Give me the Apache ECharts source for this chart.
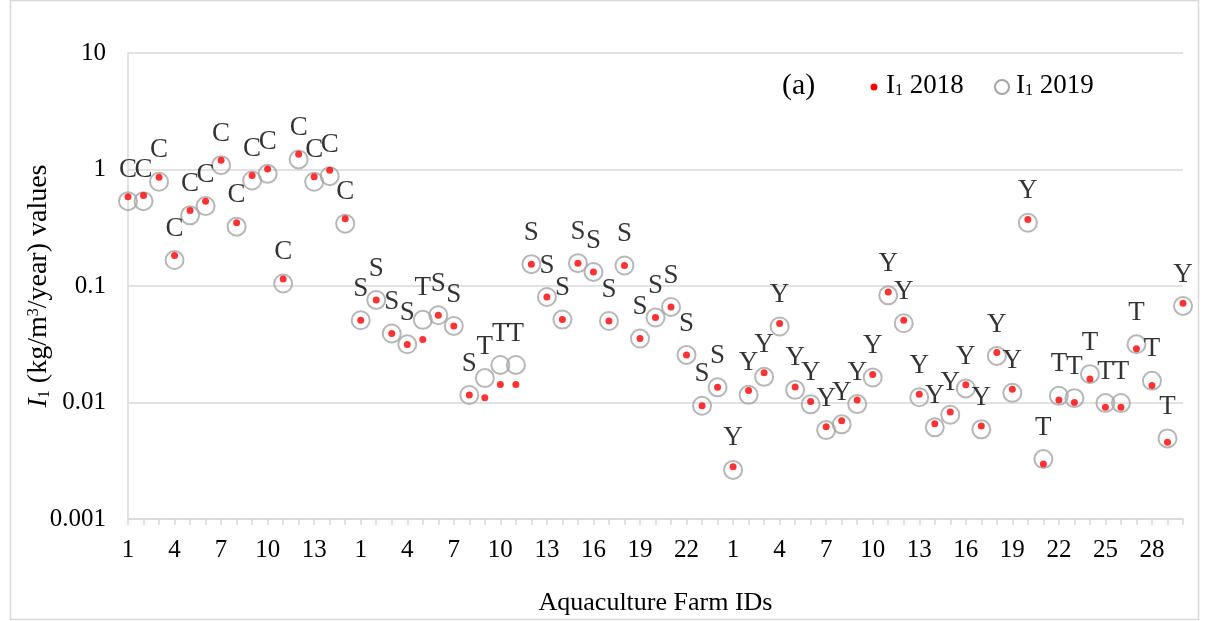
<!DOCTYPE html>
<html>
<head>
<meta charset="utf-8">
<script src="https://cdn.jsdelivr.net/npm/echarts@6/dist/echarts.min.js"></script>
<style>
  html, body { margin: 0; padding: 0; background: #ffffff; }
  #chart { width: 1208px; height: 621px; }
</style>
</head>
<body>
<div id="chart"></div>
<script>
// Farm IDs, restarting for each of the three farm groups
const farmIdsGroup1 = [1, 2, 3, 4, 5, 6, 7, 8, 9, 10, 11, 12, 13, 14, 15];
const farmIdsGroup2 = [1, 2, 3, 4, 5, 6, 7, 8, 9, 10, 11, 12, 13, 14, 15, 16, 17, 18, 19, 20, 21, 22, 23, 24];
const farmIdsGroup3 = [1, 2, 3, 4, 5, 6, 7, 8, 9, 10, 11, 12, 13, 14, 15, 16, 17, 18, 19, 20, 21, 22, 23, 24, 25, 26, 27, 28, 29, 30];

// Species code of each farm
const speciesGroup1 = ['C', 'C', 'C', 'C', 'C', 'C', 'C', 'C', 'C', 'C', 'C', 'C', 'C', 'C', 'C'];
const speciesGroup2 = ['S', 'S', 'S', 'S', 'T', 'S', 'S', 'S', 'T', 'T', 'T', 'S', 'S', 'S', 'S', 'S', 'S', 'S', 'S', 'S', 'S', 'S', 'S', 'S'];
const speciesGroup3 = ['Y', 'Y', 'Y', 'Y', 'Y', 'Y', 'Y', 'Y', 'Y', 'Y', 'Y', 'Y', 'Y', 'Y', 'Y', 'Y', 'Y', 'Y', 'Y', 'Y', 'T', 'T', 'T', 'T', 'T', 'T', 'T', 'T', 'T', 'Y'];

// I1 values (kg/m3/year), 2018
const i1Y2018Group1 = [0.583, 0.599, 0.859, 0.183, 0.445, 0.535, 1.20, 0.349, 0.888, 1.01, 0.115, 1.35, 0.866, 0.986, 0.378];
const i1Y2018Group2 = [0.0508, 0.0759, 0.0391, 0.0314, 0.0347, 0.0561, 0.0454, 0.0116, 0.0110, 0.0143, 0.0143, 0.154, 0.0805, 0.0515, 0.157, 0.132, 0.0501, 0.150, 0.0354, 0.0536, 0.0661, 0.0256, 0.00937, 0.0135];
const i1Y2018Group3 = [0.00281, 0.0127, 0.0180, 0.0476, 0.0136, 0.0102, 0.0062, 0.00697, 0.0105, 0.0174, 0.0889, 0.0508, 0.0118, 0.00657, 0.0083, 0.0142, 0.0063, 0.0269, 0.0130, 0.373, 0.00297, 0.0105, 0.0100, 0.0159, 0.0091, 0.0091, 0.0289, 0.01397, 0.00455, 0.0712];

// I1 values (kg/m3/year), 2019
const i1Y2019Group1 = [0.535, 0.535, 0.785, 0.167, 0.404, 0.485, 1.09, 0.323, 0.805, 0.918, 0.105, 1.22, 0.785, 0.877, 0.343];
const i1Y2019Group2 = [0.0508, 0.0759, 0.0391, 0.0316, 0.0512, 0.0561, 0.0454, 0.0116, 0.0162, 0.0210, 0.0210, 0.154, 0.0805, 0.0515, 0.157, 0.132, 0.0501, 0.150, 0.0354, 0.0536, 0.0661, 0.0256, 0.00937, 0.0135];
const i1Y2019Group3 = [0.00264, 0.01164, 0.0166, 0.0449, 0.01285, 0.00964, 0.0058, 0.00649, 0.00969, 0.0164, 0.0832, 0.0479, 0.0111, 0.00612, 0.00785, 0.0132, 0.00588, 0.0251, 0.0121, 0.349, 0.00327, 0.0114, 0.0109, 0.0175, 0.00989, 0.00989, 0.0316, 0.01535, 0.00492, 0.0674];

// Y axis tick labels (log scale)
const yTickLabels = { '10': '10', '1': '1', '0.1': '0.1', '0.01': '0.01', '0.001': '0.001' };

const farmIds = farmIdsGroup1.concat(farmIdsGroup2, farmIdsGroup3).map(String);
const species = speciesGroup1.concat(speciesGroup2, speciesGroup3);
const values2018 = i1Y2018Group1.concat(i1Y2018Group2, i1Y2018Group3);
const values2019 = i1Y2019Group1.concat(i1Y2019Group2, i1Y2019Group3);

const FONT = '"Liberation Serif", "Times New Roman", serif';
const GRID_COLOR = '#d9d9d9';

const chart = echarts.init(document.getElementById('chart'), null, { renderer: 'canvas' });

chart.setOption({
  backgroundColor: '#ffffff',
  animation: false,
  textStyle: { fontFamily: FONT, color: '#000000' },
  grid: { left: 128, right: 25, top: 53, bottom: 100, containLabel: false },
  xAxis: {
    type: 'category',
    data: farmIds,
    boundaryGap: false,
    name: 'Aquaculture Farm IDs',
    nameLocation: 'middle',
    nameGap: 71,
    nameMoveOverlap: false,
    nameTextStyle: { fontFamily: FONT, fontSize: 26, color: '#000000' },
    axisLine: { show: true, lineStyle: { color: GRID_COLOR, width: 1.5 } },
    axisTick: { show: true, interval: 0, length: 6, lineStyle: { color: GRID_COLOR, width: 1.5 } },
    axisLabel: {
      // one label every third farm, counted from the first category
      interval: function (idx) { return idx % 3 === 0; },
      margin: 19,
      fontFamily: FONT,
      fontSize: 25,
      color: '#000000'
    },
    splitLine: { show: false }
  },
  yAxis: {
    type: 'log',
    logBase: 10,
    min: 0.001,
    max: 10,
    name: '{it|I}{sub|1} (kg/m{sup|3}/year) values',
    nameLocation: 'middle',
    nameGap: 75,
    nameMoveOverlap: false,
    nameRotate: 90,
    nameTextStyle: {
      fontFamily: FONT,
      fontSize: 28,
      color: '#000000',
      rich: {
        it: { fontFamily: FONT, fontSize: 28, fontStyle: 'italic', color: '#000000' },
        sub: { fontFamily: FONT, fontSize: 16, color: '#000000', padding: [11, 0, 0, 0] },
        sup: { fontFamily: FONT, fontSize: 16, color: '#000000', padding: [0, 0, 11, 0] }
      }
    },
    axisLine: { show: true, lineStyle: { color: GRID_COLOR, width: 1.5 } },
    axisTick: { show: false },
    axisLabel: {
      margin: 22,
      fontFamily: FONT,
      fontSize: 25,
      color: '#000000',
      formatter: function (v) {
        const key = String(Number(v.toPrecision(6)));
        return yTickLabels[key] !== undefined ? yTickLabels[key] : '';
      }
    },
    splitLine: { show: true, lineStyle: { color: GRID_COLOR, width: 1.5 } }
  },
  series: [
    {
      name: 'I1 2019',
      type: 'scatter',
      data: values2019,
      symbol: 'circle',
      symbolSize: 18,
      z: 2,
      itemStyle: { color: 'rgba(255,255,255,0)', borderColor: '#a5a5a5', borderWidth: 2 },
      label: {
        show: true,
        position: 'top',
        distance: 8,
        fontFamily: FONT,
        fontSize: 27,
        color: '#000000',
        formatter: function (p) { return species[p.dataIndex]; }
      },
      labelLayout: { hideOverlap: false },
      emphasis: { disabled: true }
    },
    {
      name: 'I1 2018',
      type: 'scatter',
      data: values2018,
      symbol: 'circle',
      symbolSize: 7,
      z: 3,
      itemStyle: { color: '#ff0000' },
      emphasis: { disabled: true }
    }
  ],
  graphic: [
    {
      type: 'rect',
      silent: true,
      shape: { x: 10.5, y: 0.5, width: 1188, height: 619 },
      style: { fill: 'none', stroke: GRID_COLOR, lineWidth: 1.5 }
    },
    {
      type: 'text',
      left: 782,
      top: 71,
      style: { text: '(a)', font: '30px ' + FONT, fill: '#000000' }
    },
    {
      type: 'circle',
      shape: { cx: 874, cy: 87, r: 3.5 },
      style: { fill: '#ff0000' }
    },
    {
      type: 'text',
      left: 886,
      top: 72,
      style: {
        text: 'I{sub|1} 2018',
        font: '27px ' + FONT,
        fill: '#000000',
        rich: { sub: { fontFamily: FONT, fontSize: 16, fill: '#000000', padding: [10, 0, 0, 0] } }
      }
    },
    {
      type: 'circle',
      shape: { cx: 1002, cy: 87, r: 7 },
      style: { fill: 'none', stroke: '#a5a5a5', lineWidth: 2 }
    },
    {
      type: 'text',
      left: 1016,
      top: 72,
      style: {
        text: 'I{sub|1} 2019',
        font: '27px ' + FONT,
        fill: '#000000',
        rich: { sub: { fontFamily: FONT, fontSize: 16, fill: '#000000', padding: [10, 0, 0, 0] } }
      }
    }
  ]
});
</script>
</body>
</html>
